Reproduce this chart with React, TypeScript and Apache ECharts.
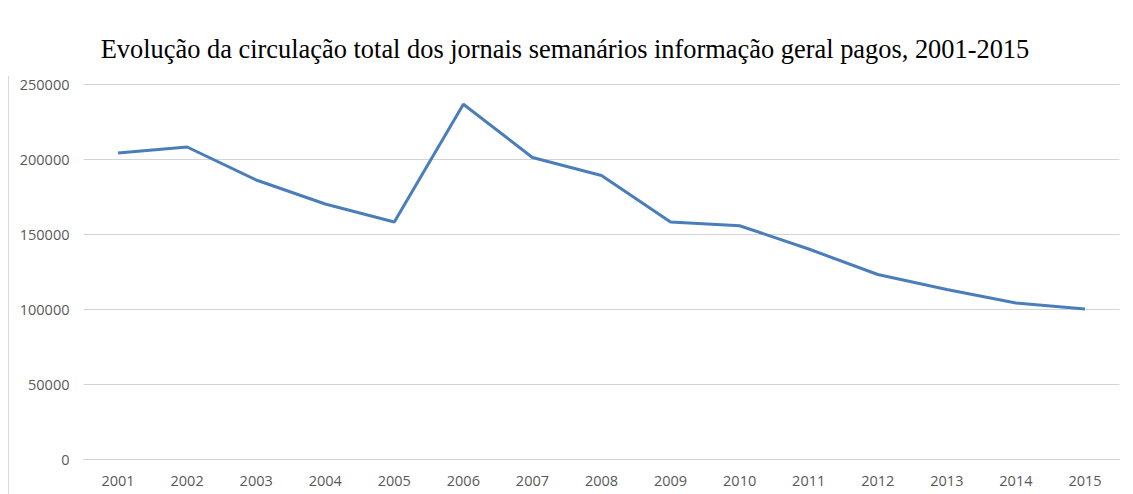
import React, { useEffect, useRef } from "react";
import * as echarts from "echarts";

const years = ["2001","2002","2003","2004","2005","2006","2007","2008","2009","2010","2011","2012","2013","2014","2015"];
const circulation = [204000, 208000, 186000, 170000, 158000, 236500, 201000, 189000, 158000, 155500, 140000, 123000, 113000, 104000, 100000];
const titleText = "Evolução da circulação total dos jornais semanários informação geral pagos, 2001-2015";

export default function App() {
  const ref = useRef<HTMLDivElement>(null);
  useEffect(() => {
    if (!ref.current) return;
    const chart = echarts.init(ref.current, null, { renderer: "svg" });
    chart.setOption({
      animation: false,
      backgroundColor: "#ffffff",
      title: {
        text: titleText,
        left: 560,
        textAlign: "center",
        top: 31,
        textStyle: { fontFamily: "Liberation Serif", fontWeight: "normal", fontSize: 26.4, color: "#000000" },
      },
      graphic: [
        { type: "line", shape: { x1: 8.5, y1: 76, x2: 8.5, y2: 494 }, style: { stroke: "#d9d9d9", lineWidth: 1 } },
      ],
      grid: { left: 83.5, right: 13.5, top: 84, bottom: 35 },
      xAxis: {
        type: "category",
        data: years,
        boundaryGap: true,
        axisLine: { show: true, lineStyle: { color: "#d4d4d4", width: 1.2 } },
        axisTick: { show: false },
        axisLabel: { color: "#595959", fontFamily: "Open Sans", fontSize: 14.5, margin: 14 },
      },
      yAxis: {
        type: "value",
        min: 0,
        max: 250000,
        interval: 50000,
        axisLine: { show: false },
        axisTick: { show: false },
        splitLine: { lineStyle: { color: "#d4d4d4", width: 1.2 } },
        axisLabel: { color: "#595959", fontFamily: "Open Sans", fontSize: 14.5, margin: 14, formatter: (v: number) => String(v) },
      },
      series: [
        {
          type: "line",
          data: circulation,
          symbol: "none",
          lineStyle: { color: "#4A7EBB", width: 3 },
          itemStyle: { color: "#4A7EBB" },
        },
      ],
    });
    return () => chart.dispose();
  }, []);
  return <div ref={ref} style={{ position: "fixed", left: 0, top: 0, width: 1133, height: 494 }} />;
}
